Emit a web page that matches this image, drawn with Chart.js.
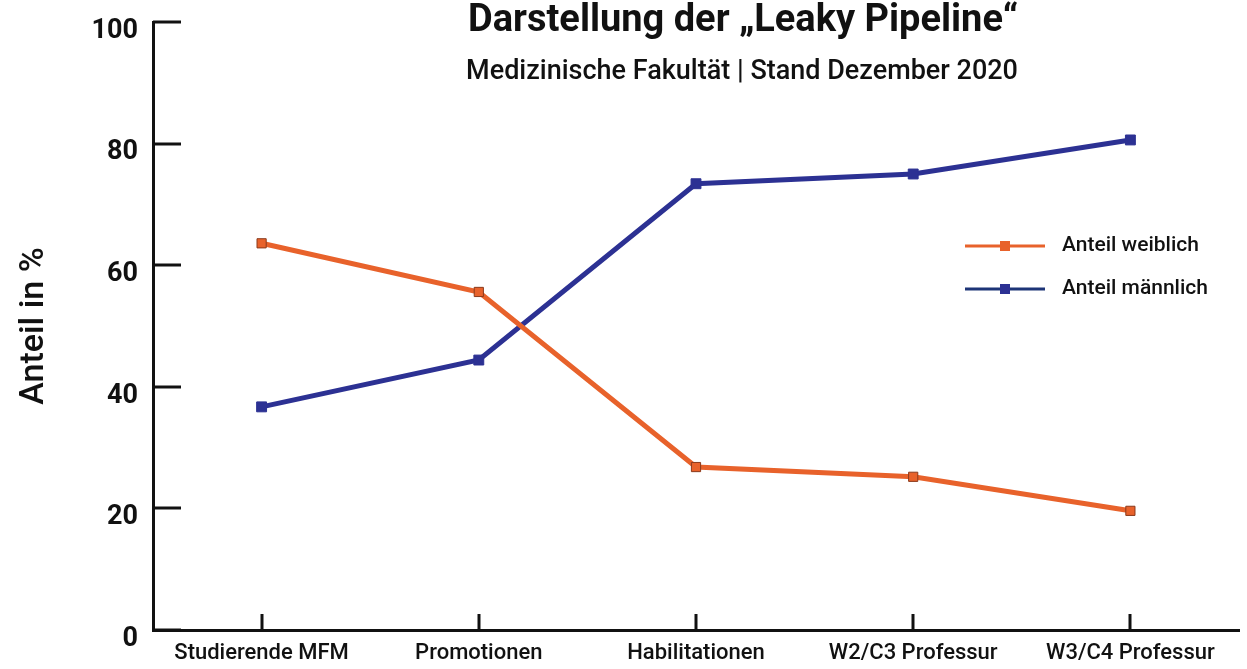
<!DOCTYPE html>
<html>
<head>
<meta charset="utf-8">
<script src="https://cdn.jsdelivr.net/npm/chart.js@4.4.1/dist/chart.umd.min.js"></script>
<style>
  html, body { margin: 0; padding: 0; background: #fff; }
  #wrap { width: 1247px; height: 669px; }
</style>
</head>
<body>
<div id="wrap"><canvas id="chart" width="1247" height="669"></canvas></div>
<script>
// Kategorien und Werte
const categories = ['Studierende MFM', 'Promotionen', 'Habilitationen', 'W2/C3 Professur', 'W3/C4 Professur'];
const anteilWeiblich = [63.6, 55.6, 26.8, 25.2, 19.6];
const anteilMaennlich = [36.7, 44.4, 73.4, 75.0, 80.6];
const yTicks = [0, 20, 40, 60, 80, 100];
const seriesNames = ['Anteil weiblich', 'Anteil männlich'];

const FONT = 'Roboto, "Open Sans", sans-serif';
const ORANGE = '#e8622b';
const BLUE = '#2c3193';

// Ticks nach innen + Titel + Legende
const extras = {
  id: 'extras',
  afterDatasetsDraw(chart) {
    const { ctx, chartArea, scales } = chart;
    ctx.save();
    ctx.strokeStyle = '#111';
    ctx.lineWidth = 3;
    yTicks.forEach(v => {
      const y = Math.round(scales.y.getPixelForValue(v));
      ctx.beginPath();
      ctx.moveTo(chartArea.left, y);
      ctx.lineTo(chartArea.left + 28, y);
      ctx.stroke();
    });
    categories.forEach((c, i) => {
      const x = Math.round(scales.x.getPixelForValue(i));
      ctx.beginPath();
      ctx.moveTo(x, chartArea.bottom);
      ctx.lineTo(x, chartArea.bottom - 16);
      ctx.stroke();
    });

    // Titel
    ctx.fillStyle = '#111';
    ctx.textAlign = 'center';
    ctx.textBaseline = 'middle';
    ctx.font = 'bold 38px ' + FONT;
    ctx.fillText('Darstellung der „Leaky Pipeline“', 743, 21);
    ctx.font = '500 27px ' + FONT;
    ctx.fillText('Medizinische Fakultät | Stand Dezember 2020', 742, 72);

    // Legende
    const rows = [
      { label: seriesNames[0], line: ORANGE, box: ORANGE, y: 246 },
      { label: seriesNames[1], line: '#1d3477', box: BLUE, y: 289 }
    ];
    rows.forEach(r => {
      ctx.strokeStyle = r.line;
      ctx.lineWidth = 3;
      ctx.beginPath();
      ctx.moveTo(965, r.y);
      ctx.lineTo(1045, r.y);
      ctx.stroke();
      ctx.fillStyle = r.box;
      ctx.fillRect(1000, r.y - 5, 10, 10);
      ctx.fillStyle = '#111';
      ctx.textAlign = 'left';
      ctx.font = '500 21px ' + FONT;
      ctx.fillText(r.label, 1062, r.y);
    });
    ctx.restore();
  }
};

new Chart(document.getElementById('chart'), {
  type: 'line',
  data: {
    labels: categories,
    datasets: [
      {
        label: seriesNames[0],
        data: anteilWeiblich,
        borderColor: ORANGE,
        backgroundColor: ORANGE,
        borderWidth: 5,
        pointStyle: 'rect',
        pointRadius: 6.5,
        pointBorderColor: '#8a3a1c',
        pointBorderWidth: 1,
        pointBackgroundColor: ORANGE,
        tension: 0
      },
      {
        label: seriesNames[1],
        data: anteilMaennlich,
        borderColor: BLUE,
        backgroundColor: BLUE,
        borderWidth: 5,
        pointStyle: 'rect',
        pointRadius: 7,
        pointBorderColor: BLUE,
        pointBorderWidth: 1,
        pointBackgroundColor: BLUE,
        tension: 0
      }
    ]
  },
  options: {
    responsive: false,
    animation: false,
    devicePixelRatio: 1,
    layout: { padding: { top: 22, right: 0, bottom: 0, left: 0 } },
    plugins: {
      legend: { display: false },
      tooltip: { enabled: false }
    },
    scales: {
      x: {
        type: 'category',
        offset: true,
        grid: { display: false, drawTicks: false },
        border: { display: true, color: '#111', width: 3 },
        ticks: {
          color: '#111',
          padding: 10,
          maxRotation: 0,
          autoSkip: false,
          font: { family: FONT, size: 22, weight: '500' }
        },
        afterFit(scale) { scale.height = 39; }
      },
      y: {
        min: 0,
        max: 100,
        afterBuildTicks(scale) { scale.ticks = yTicks.map(v => ({ value: v })); },
        grid: { display: false, drawTicks: false },
        border: { display: true, color: '#111', width: 3 },
        ticks: {
          color: '#111',
          padding: 15,
          labelOffset: 9,
          font: { family: FONT, size: 27, weight: 'bold' }
        },
        title: {
          display: true,
          text: 'Anteil in %',
          color: '#111',
          padding: { top: 14, bottom: 0 },
          font: { family: FONT, size: 34, weight: '500' }
        },
        afterFit(scale) {
          scale.width = 153;
          scale.paddingTop = 0;
          scale.paddingBottom = 0;
        }
      }
    }
  },
  plugins: [extras]
});
</script>
</body>
</html>
